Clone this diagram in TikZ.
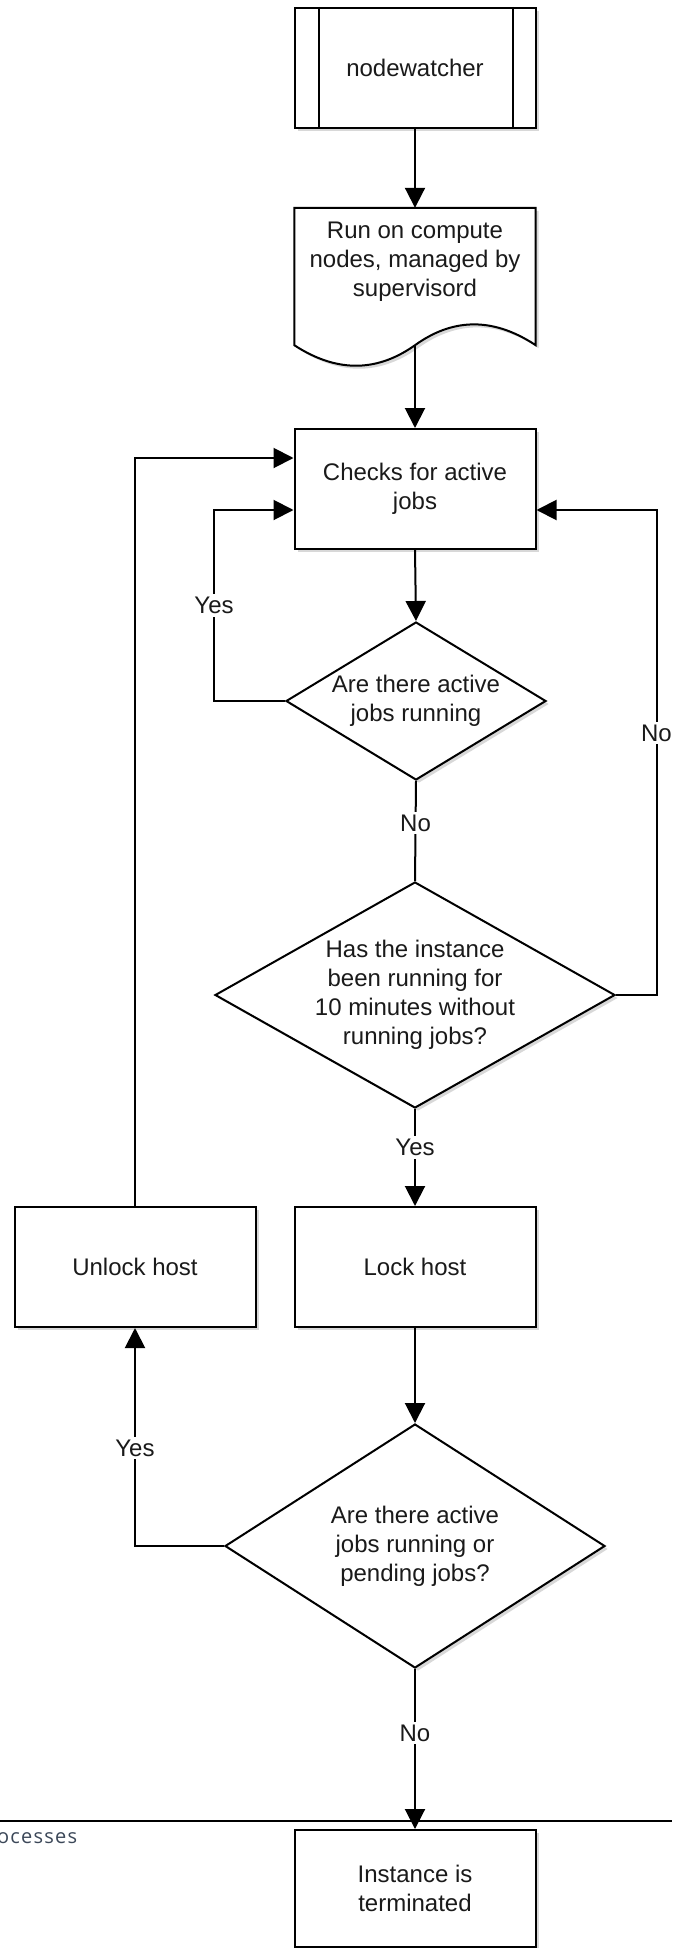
\documentclass[tikz,border=0pt]{standalone}
\usepackage{fontspec}
\setmainfont{Liberation Sans}
\newfontfamily\procfont[LetterSpace=6]{Open Sans}
\usetikzlibrary{arrows.meta,shapes.geometric,shadows,calc}
\definecolor{slate}{HTML}{3B4758}
\definecolor{ink}{HTML}{1A1A1A}
\begin{document}
\begin{tikzpicture}[x=1pt,y=-1pt,
  every node/.style={font=\fontsize{24}{29}\selectfont, text=ink},
  line/.style={line width=2pt, draw=black},
  arr/.style={line, -{Triangle[length=20pt,width=20pt]}},
  shad/.style={drop shadow={shadow xshift=3pt,shadow yshift=-3pt,fill=black!30,opacity=0.5}},
  box/.style={rectangle, draw=black, line width=2pt, fill=white, minimum width=241pt, minimum height=120pt, align=center, shad, inner sep=0pt},
  dec/.style={diamond, draw=black, line width=2pt, fill=white, inner sep=0pt, shad},
  lbl/.style={fill=white, inner sep=3pt},
]
\useasboundingbox (0,0) rectangle (672,1948);
\fill[white] (0,0) rectangle (672,1948);

% lane divider
\coordinate (laneL) at (0,1821);
\coordinate (laneR) at (672,1821);
\draw[line width=2.5pt] (laneL) -- (laneR);
\node[anchor=west, inner sep=0pt, font=\procfont\fontsize{20}{24}\selectfont, text=slate] (proc) at (-3,1838) {ocesses};

% nodewatcher (predefined process)
\node[box] (nw) at (415,68) {nodewatcher};
\draw[line] ($(nw.north west)+(25,0)$) -- ($(nw.south west)+(25,0)$);
\draw[line] ($(nw.north east)+(-24,0)$) -- ($(nw.south east)+(-24,0)$);

% document shape
\node[minimum width=241pt, minimum height=137pt, inner sep=0pt] (doc) at (415,276.5) {};
\draw[line, fill=white, shad] (doc.south west) -- (doc.north west) -- (doc.north east) -- (doc.south east)
  .. controls (490,315) and (450,320) .. (doc.south)
  .. controls (380,370) and (340,375) .. (doc.south west) -- cycle;
\node[align=center, inner sep=0pt] (doctxt) at (415,262) {Run on compute\\nodes, managed by\\supervisord};

\node[box] (chk) at (415,489) {Checks for active\\jobs};

\node[dec, minimum width=260pt, minimum height=158pt,
  label={[align=center]center:{Are there active\\jobs running}}] (d1) at (416,701) {};

\node[dec, minimum width=400pt, minimum height=226pt,
  label={[align=center]center:{Has the instance\\been running for\\10 minutes without\\running jobs?}}] (d2) at (415,995) {};

\node[box] (lock) at (415,1267) {Lock host};
\node[box] (unlock) at (135,1267) {Unlock host};

\node[dec, minimum width=380pt, minimum height=244pt,
  label={[align=center]center:{Are there active\\jobs running or\\pending jobs?}}] (d3) at (415,1546) {};

\node[box, minimum height=117pt] (term) at (415,1888.5) {Instance is\\terminated};

% connectors
\draw[arr] (nw.south) -- (doc.north);
\draw[arr] (doc.south) -- (chk.north);
\draw[arr] (chk.south) -- (d1.north);
\draw[line] (d1.south) -- node[lbl, pos=0.42] (l1) {No} (d2.north);
\draw[arr] (d2.south) -- node[lbl, pos=0.4] (l2) {Yes} (lock.north);
\draw[arr] (lock.south) -- (d3.north);
\draw[arr] (d3.south) -- node[lbl, pos=0.4] (l3) {No} (term.north);

\draw[arr] (d1.west) -| node[lbl, pos=0.75] (l4) {Yes} ($(chk.west)+(-79.5,21)$) -- ($(chk.west)+(0,21)$);
\draw[arr] (d2.east) -| node[lbl, pos=0.77] (l5) {No} ($(chk.east)+(120,21)$) -- ($(chk.east)+(0,21)$);
\draw[arr] (unlock.north) |- ($(chk.west)+(0,-31)$);
\draw[arr] (d3.west) -| node[lbl, pos=0.725] (l6) {Yes} (unlock.south);
\end{tikzpicture}
\end{document}
